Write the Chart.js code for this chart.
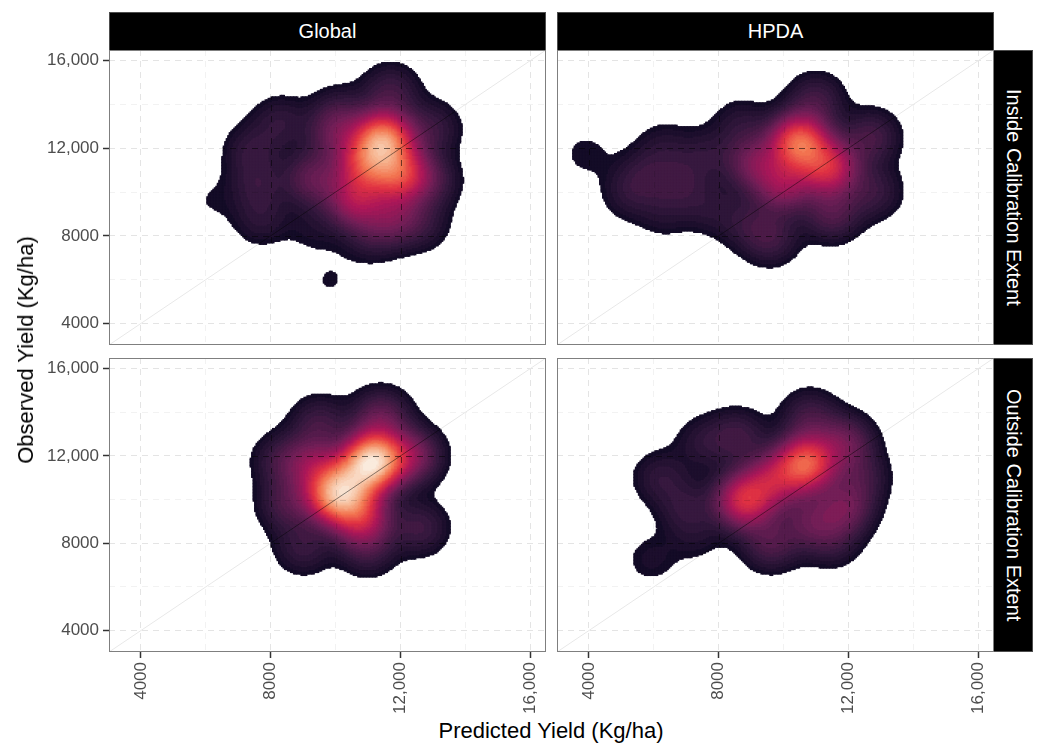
<!DOCTYPE html>
<html>
<head>
<meta charset="utf-8">
<script src="https://cdn.jsdelivr.net/npm/chart.js@4/dist/chart.umd.min.js"></script>
<style>
  body { margin: 0; background: #fff; font-family: "Liberation Sans", Arial, sans-serif; }
  #wrap { position: relative; width: 1038px; height: 746px; overflow: hidden; }
  canvas { position: absolute; }
  .strip { position: absolute; background: #000; color: #fff; font-size: 20px; box-sizing: border-box;
           border: 1px solid #4d4d4d; display: flex; align-items: center; justify-content: center; }
  .strip.v span { writing-mode: vertical-rl; }
  .axtitle { position: absolute; font-size: 22px; color: #000; line-height: 22px; white-space: nowrap; }
</style>
</head>
<body>
<div id="wrap">
  <div class="strip" style="left:109px;top:12px;width:437px;height:39px;">Global</div>
  <div class="strip" style="left:557px;top:12px;width:437px;height:39px;">HPDA</div>
  <div class="strip v" style="left:993px;top:50px;width:40px;height:295px;"><span>Inside Calibration Extent</span></div>
  <div class="strip v" style="left:993px;top:358px;width:40px;height:294px;"><span>Outside Calibration Extent</span></div>

  <canvas id="c00" width="546" height="295" style="left:0;top:50px;"></canvas>
  <canvas id="c01" width="437" height="295" style="left:557px;top:50px;"></canvas>
  <canvas id="c10" width="546" height="356" style="left:0;top:358px;"></canvas>
  <canvas id="c11" width="437" height="356" style="left:557px;top:358px;"></canvas>

  <div class="axtitle" style="left:26px;top:350px;transform:translate(-50%,-50%) rotate(-90deg);">Observed Yield (Kg/ha)</div>
  <div class="axtitle" style="left:551px;top:731px;transform:translate(-50%,-50%);">Predicted Yield (Kg/ha)</div>
</div>
<script>
// axes
const AXIS_MIN = 3020;
const AXIS_MAX = 16480;
const TICK_VALUES = [4000, 6000, 8000, 10000, 12000, 14000, 16000];
const TICK_LABELS = ['4000', '', '8000', '', '12,000', '', '16,000'];

const globalInsideX = [11470, 12000, 10900, 10600, 11800, 9300, 7400, 7600, 7700, 8300, 10100, 11700, 13000, 13000, 12700, 11100, 9300, 6100, 9830, 10000];
const globalInsideY = [12380, 10800, 11200, 9600, 8900, 10600, 11900, 10300, 8700, 13200, 13600, 14600, 12900, 10500, 8500, 8000, 8300, 9600, 5920, 12600];
const globalInsideW = [0.45, 0.3, 0.25, 0.2, 0.12, 0.12, 0.06, 0.06, 0.05, 0.06, 0.06, 0.08, 0.07, 0.07, 0.05, 0.055, 0.03, 0.022, 0.0245, 0.1];

const hpdaInsideX = [10480, 11400, 10000, 9100, 11500, 9600, 12700, 12800, 11000, 8700, 8800, 6800, 5700, 7600, 6300, 3900, 5200, 7700, 6300];
const hpdaInsideY = [12250, 11100, 10300, 11300, 9000, 7900, 12500, 10000, 14200, 13100, 8600, 10400, 10800, 11700, 12100, 11750, 9900, 9300, 9000];
const hpdaInsideW = [0.4, 0.28, 0.18, 0.14, 0.1, 0.08, 0.09, 0.07, 0.08, 0.05, 0.05, 0.06, 0.05, 0.05, 0.04, 0.03, 0.045, 0.045, 0.035];

const globalOutsideX = [11200, 10000, 10600, 10800, 9300, 11400, 9500, 12400, 12600, 9000, 11000, 8500, 8300];
const globalOutsideY = [11800, 10200, 11000, 9200, 11600, 13800, 13500, 12000, 8700, 7800, 7700, 9800, 11800];
const globalOutsideW = [0.55, 0.45, 0.2, 0.25, 0.15, 0.12, 0.08, 0.15, 0.08, 0.07, 0.07, 0.09, 0.07];

const hpdaOutsideX = [10700, 8800, 9700, 11900, 11900, 10800, 8600, 6200, 7000, 9600, 11500, 5900, 7300, 12400, 7500, 10800];
const hpdaOutsideY = [11650, 9950, 10900, 12600, 9600, 13800, 12900, 11000, 9600, 8000, 8100, 7250, 8200, 11000, 12600, 9000];
const hpdaOutsideW = [0.38, 0.3, 0.2, 0.13, 0.13, 0.08, 0.08, 0.06, 0.06, 0.1, 0.06, 0.035, 0.03, 0.07, 0.05, 0.1];

// kernel density settings
const BW_X = 600, BW_Y = 850;
const STEP_X = 46, STEP_Y = 68;
const LOW = 0.035, LEVELS = 40, GAMMA = 0.85;

// rocket palette
const ROCKET = [
  [0, [3, 5, 26]], [0.143, [53, 25, 62]], [0.286, [112, 31, 87]], [0.429, [173, 23, 89]],
  [0.571, [225, 51, 66]], [0.714, [243, 118, 81]], [0.857, [246, 180, 143]], [1, [250, 235, 221]]
];
function rocketRgb(t) {
  for (let i = 1; i < ROCKET.length; i++) {
    if (t <= ROCKET[i][0]) {
      const [t0, c0] = ROCKET[i - 1], [t1, c1] = ROCKET[i];
      const f = (t - t0) / (t1 - t0);
      return c0.map((v, j) => Math.round(v + (c1[j] - v) * f));
    }
  }
  return [250, 235, 221];
}

function density(xs, ys, ws) {
  const cells = [];
  let max = 0;
  for (let x = AXIS_MIN; x <= AXIS_MAX; x += STEP_X) {
    for (let y = AXIS_MIN; y <= AXIS_MAX; y += STEP_Y) {
      let d = 0;
      for (let i = 0; i < xs.length; i++) {
        const u = (x - xs[i]) / BW_X, v = (y - ys[i]) / BW_Y;
        const q = u * u + v * v;
        if (q < 30) d += ws[i] * Math.exp(-0.5 * q);
      }
      if (d > max) max = d;
      cells.push({x: x, y: y, d: d});
    }
  }
  return {cells: cells, max: max};
}

const panels = [
  {id: 'c00', dens: density(globalInsideX, globalInsideY, globalInsideW), showX: false, showY: true},
  {id: 'c01', dens: density(hpdaInsideX, hpdaInsideY, hpdaInsideW), showX: false, showY: false},
  {id: 'c10', dens: density(globalOutsideX, globalOutsideY, globalOutsideW), showX: true, showY: true},
  {id: 'c11', dens: density(hpdaOutsideX, hpdaOutsideY, hpdaOutsideW), showX: true, showY: false}
];
const globalMax = Math.max.apply(null, panels.map(p => p.dens.max));

function levelDatasets(dens) {
  const groups = [];
  for (let k = 0; k < LEVELS; k++) groups.push([]);
  dens.cells.forEach(c => {
    const v = c.d / globalMax;
    if (v < LOW) return;
    const f = Math.pow((v - LOW) / (1 - LOW), GAMMA);
    const k = Math.min(LEVELS - 1, Math.floor(f * LEVELS));
    groups[k].push({x: c.x, y: c.y});
  });
  const sets = [];
  for (let k = LEVELS - 1; k >= 0; k--) {
    if (!groups[k].length) continue;
    sets.push({
      type: 'scatter',
      data: groups[k],
      pointStyle: 'rect',
      pointRadius: 1.8,
      borderWidth: 0,
      backgroundColor: 'rgb(' + rocketRgb(0.05 + 0.95 * k / (LEVELS - 1)).join(',') + ')'
    });
  }
  return sets;
}

// grid + diagonal darken over the density, light on the white panel
const overlay = {
  id: 'overlay',
  beforeDatasetDraw(chart, args) {
    if (args.index !== 0) return;
    const ctx = chart.ctx, a = chart.chartArea, sx = chart.scales.x, sy = chart.scales.y;
    ctx.save();
    ctx.beginPath();
    ctx.rect(a.left, a.top, a.right - a.left, a.bottom - a.top);
    ctx.clip();
    ctx.globalCompositeOperation = 'source-atop';
    ctx.lineWidth = 1;
    ctx.setLineDash([6, 5]);
    TICK_VALUES.forEach((v, i) => {
      ctx.strokeStyle = TICK_LABELS[i] ? 'rgba(0,0,0,0.55)' : 'rgba(0,0,0,0.12)';
      const px = Math.round(sx.getPixelForValue(v)) + 0.5;
      const py = Math.round(sy.getPixelForValue(v)) + 0.5;
      ctx.beginPath();
      ctx.moveTo(px, a.top); ctx.lineTo(px, a.bottom);
      ctx.moveTo(a.left, py); ctx.lineTo(a.right, py);
      ctx.stroke();
    });
    ctx.setLineDash([]);
    ctx.strokeStyle = 'rgba(0,0,0,0.45)';
    ctx.beginPath();
    ctx.moveTo(sx.getPixelForValue(AXIS_MIN), sy.getPixelForValue(AXIS_MIN));
    ctx.lineTo(sx.getPixelForValue(AXIS_MAX), sy.getPixelForValue(AXIS_MAX));
    ctx.stroke();
    ctx.restore();
    ctx.globalCompositeOperation = 'destination-over';
  },
  afterDraw(chart) {
    const ctx = chart.ctx, a = chart.chartArea;
    ctx.globalCompositeOperation = 'source-over';
    ctx.save();
    ctx.strokeStyle = '#7f7f7f';
    ctx.lineWidth = 1;
    ctx.strokeRect(a.left + 0.5, a.top + 0.5, a.right - a.left - 1, a.bottom - a.top - 1);
    ctx.restore();
  }
};

Chart.defaults.font.family = '"Liberation Sans", Arial, sans-serif';

function axis(show, horizontal) {
  return {
    type: 'linear',
    min: AXIS_MIN,
    max: AXIS_MAX,
    afterBuildTicks: s => { s.ticks = TICK_VALUES.map(v => ({value: v})); },
    afterFit: s => {
      if (horizontal) { s.height = show ? 62 : 0; s.paddingLeft = 0; s.paddingRight = 0; }
      else { s.width = show ? 109 : 0; s.paddingTop = 0; s.paddingBottom = 0; }
    },
    border: {display: false, dash: [6, 5]},
    grid: {
      z: 1,
      lineWidth: 1,
      color: c => TICK_LABELS[c.index] ? '#e4e4e4' : '#f2f2f2',
      drawTicks: show,
      tickLength: 6,
      tickWidth: 1.5,
      tickColor: c => TICK_LABELS[c.index] ? '#333333' : 'rgba(0,0,0,0)'
    },
    ticks: {
      display: show,
      autoSkip: false,
      color: '#4d4d4d',
      font: {size: 17},
      padding: 4,
      minRotation: horizontal ? 90 : 0,
      maxRotation: horizontal ? 90 : 0,
      callback: (v, i) => TICK_LABELS[i]
    }
  };
}

panels.forEach(p => {
  const diagonal = {
    type: 'line',
    data: [{x: AXIS_MIN, y: AXIS_MIN}, {x: AXIS_MAX, y: AXIS_MAX}],
    borderColor: '#e8e8e8',
    borderWidth: 1,
    pointRadius: 0
  };
  new Chart(document.getElementById(p.id), {
    type: 'scatter',
    data: {datasets: [diagonal].concat(levelDatasets(p.dens))},
    options: {
      responsive: false,
      animation: false,
      events: [],
      layout: {padding: 0, autoPadding: false},
      plugins: {legend: {display: false}, tooltip: {enabled: false}},
      scales: {x: axis(p.showX, true), y: axis(p.showY, false)}
    },
    plugins: [overlay]
  });
});
</script>
</body>
</html>
